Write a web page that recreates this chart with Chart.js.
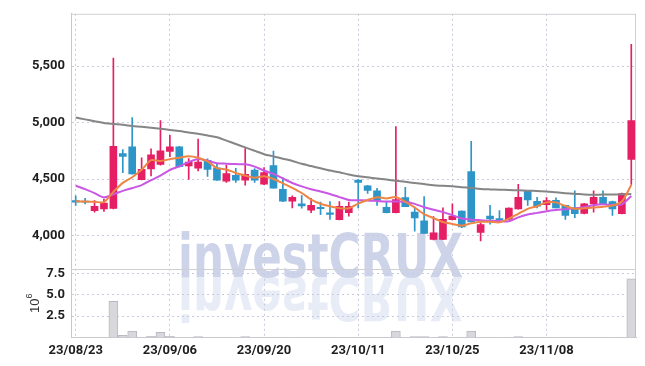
<!DOCTYPE html>
<html><head><meta charset="utf-8">
<script src="https://cdn.jsdelivr.net/npm/chart.js@4/dist/chart.umd.min.js"></script>
<style>html,body{margin:0;padding:0;background:#fff;}#wrap{width:645px;height:366px;position:relative;}</style>
</head><body><div id="wrap"><canvas id="c" width="645" height="366"></canvas></div>
<script>
const dates = ['23/08/23','23/08/24','23/08/25','23/08/28','23/08/29','23/08/30','23/08/31','23/09/01','23/09/04','23/09/05',
'23/09/06','23/09/07','23/09/08','23/09/11','23/09/12','23/09/13','23/09/14','23/09/15','23/09/18','23/09/19',
'23/09/20','23/09/21','23/09/22','23/09/25','23/09/26','23/09/27','23/10/04','23/10/05','23/10/06','23/10/10',
'23/10/11','23/10/12','23/10/13','23/10/16','23/10/17','23/10/18','23/10/19','23/10/20','23/10/23','23/10/24',
'23/10/25','23/10/26','23/10/27','23/10/30','23/10/31','23/11/01','23/11/02','23/11/03','23/11/06','23/11/07',
'23/11/08','23/11/09','23/11/10','23/11/13','23/11/14','23/11/15','23/11/16','23/11/17','23/11/20','23/11/21'];
const openP  = [4308,4304,4220,4236,4240,4725,4785,4495,4590,4630,4745,4785,4615,4595,4665,4600,4480,4533,4490,4580,
                4455,4620,4408,4303,4280,4225,4250,4200,4140,4201,4490,4440,4396,4250,4201,4336,4207,4129,3965,3965,
                4140,4216,4565,4026,4172,4150,4143,4236,4396,4303,4272,4312,4266,4245,4195,4280,4338,4301,4192,4673];
const highP  = [4350,4330,4310,4323,5570,4761,5044,4688,4767,5017,4886,4790,4682,4854,4679,4630,4624,4594,4769,4592,
                4601,4747,4513,4352,4353,4330,4295,4301,4301,4295,4495,4445,4417,4301,4965,4426,4251,4345,4168,4245,
                4280,4218,4833,4113,4268,4221,4245,4453,4400,4338,4336,4333,4270,4396,4285,4396,4396,4305,4375,5693];
const lowP   = [4266,4280,4207,4213,4236,4557,4542,4493,4528,4622,4697,4605,4496,4572,4522,4488,4469,4469,4446,4470,
                4450,4418,4300,4245,4242,4201,4184,4143,4138,4172,4245,4373,4266,4200,4200,4254,4039,4018,3960,3963,
                4138,4070,4118,3951,4100,4135,4140,4234,4266,4245,4228,4245,4143,4157,4190,4207,4280,4178,4190,4453];
const closeP = [4296,4296,4258,4286,4790,4700,4545,4585,4715,4750,4785,4610,4650,4650,4585,4490,4548,4490,4542,4490,
                4557,4420,4303,4338,4262,4266,4237,4187,4257,4257,4470,4400,4310,4201,4318,4254,4155,4018,4024,4143,
                4172,4076,4120,4096,4146,4140,4242,4338,4314,4260,4310,4245,4178,4192,4280,4338,4280,4236,4371,5017];
const volume = [30000,30000,30000,30000,4250000,250000,750000,30000,150000,600000,150000,30000,30000,120000,30000,30000,30000,30000,120000,30000,
                30000,30000,30000,30000,30000,30000,30000,30000,30000,30000,30000,30000,30000,30000,750000,30000,120000,120000,30000,120000,
                30000,30000,750000,30000,30000,30000,30000,120000,30000,30000,30000,30000,30000,30000,30000,30000,30000,30000,30000,6900000];
const ma5    = [4303,4300,4298,4295,4386,4466,4516,4581,4667,4659,4676,4689,4702,4689,4656,4597,4585,4553,4531,4512,
                4525,4500,4462,4422,4376,4318,4281,4258,4242,4241,4282,4314,4339,4328,4340,4297,4248,4189,4154,4119,
                4102,4087,4107,4121,4122,4116,4149,4192,4236,4259,4293,4293,4261,4237,4241,4247,4254,4265,4301,4448];
const ma10   = [4440,4410,4375,4338,4365,4395,4420,4446,4490,4530,4580,4612,4650,4678,4662,4640,4636,4632,4630,4610,
                4575,4545,4505,4465,4435,4410,4390,4367,4340,4315,4312,4310,4305,4300,4300,4298,4280,4250,4228,4207,
                4180,4150,4140,4135,4130,4128,4126,4160,4185,4200,4215,4225,4232,4240,4251,4268,4276,4270,4275,4350];
const maLong = [5045,5028,5012,4995,4987,4980,4970,4962,4953,4945,4935,4925,4912,4900,4885,4870,4840,4810,4780,4750,
                4720,4700,4680,4660,4635,4615,4595,4575,4560,4540,4525,4515,4505,4495,4485,4475,4465,4455,4445,4440,
                4435,4428,4420,4412,4408,4405,4403,4400,4397,4393,4390,4382,4375,4370,4362,4360,4362,4363,4364,4367];
const priceTicks = [4000,4500,5000,5500];
const volumeTicks = [2500000,5000000,7500000];

const UP = '#e61e64', DOWN = '#2e95c8', GRID = '#c9cbdc';
const FONT = "Roboto,'Liberation Sans',sans-serif";
const WMFONT = "'DejaVu Sans Condensed','Liberation Sans Narrow',sans-serif";
const candleColor = (i) => closeP[i] >= openP[i] ? UP : DOWN;

const watermark = {
  id: 'wm',
  beforeDraw(chart) {
    const ctx = chart.ctx;
    ctx.save();
    ctx.font = "bold 60px " + WMFONT;
    const w = ctx.measureText('investCRUX').width;
    const sx = 285 / w;
    ctx.setTransform(sx, 0, 0, 1, 178, 277);
    ctx.fillStyle = 'rgba(188,197,226,0.75)';
    ctx.fillText('investCRUX', 0, 0);
    ctx.setTransform(sx, 0, 0, -1, 178, 277);
    ctx.fillStyle = 'rgba(205,212,234,0.45)';
    ctx.fillText('investCRUX', 0, 0);
    ctx.restore();
  }
};
const frame = {
  id: 'frame',
  beforeDatasetsDraw(chart) {
    const {ctx, chartArea: a} = chart;
    ctx.save();
    ctx.strokeStyle = '#d0d0d4';
    ctx.lineWidth = 1;
    ctx.beginPath();
    ctx.moveTo(a.left, a.top + 0.5); ctx.lineTo(a.right, a.top + 0.5);
    ctx.moveTo(a.right - 0.5, a.top); ctx.lineTo(a.right - 0.5, a.bottom);
    const yb = chart.scales.y.bottom;
    ctx.moveTo(a.left, yb + 0.5); ctx.lineTo(a.right, yb + 0.5);
    ctx.stroke();
    ctx.restore();
  },
  afterDraw(chart) {
    const ctx = chart.ctx;
    const s = chart.scales.yv;
    ctx.save();
    ctx.translate(33, (s.top + s.bottom) / 2);
    ctx.rotate(-Math.PI / 2);
    ctx.fillStyle = '#333';
    ctx.textBaseline = 'middle';
    ctx.font = "13px 'Liberation Sans',sans-serif";
    const w1 = ctx.measureText('10').width;
    ctx.font = "9px 'Liberation Sans',sans-serif";
    const w2 = ctx.measureText('6').width;
    const x0 = -(w1 + w2) / 2;
    ctx.font = "13px 'Liberation Sans',sans-serif";
    ctx.fillText('10', x0, 2);
    ctx.font = "9px 'Liberation Sans',sans-serif";
    ctx.fillText('6', x0 + w1, -3);
    ctx.restore();
  }
};

const tickFont = {family: FONT, size: 13, weight: 'bold'};

new Chart(document.getElementById('c'), {
  data: {
    labels: dates,
    datasets: [
      {type:'line', label:'MA5', data: ma5, borderColor:'#ef8544', borderWidth:2, pointRadius:0, tension:0.25, yAxisID:'y', order:0},
      {type:'line', label:'MA10', data: ma10, borderColor:'#c957e3', borderWidth:2, pointRadius:0, tension:0.25, yAxisID:'y', order:1},
      {type:'line', label:'MA long', data: maLong, borderColor:'#858585', borderWidth:2, pointRadius:0, tension:0.25, yAxisID:'y', order:2},
      {type:'bar', label:'body', data: dates.map((d,i)=>[openP[i], closeP[i]]), backgroundColor:(c)=>candleColor(c.dataIndex),
        barThickness:7, grouped:false, yAxisID:'y', order:3},
      {type:'bar', label:'wick', data: dates.map((d,i)=>[lowP[i], highP[i]]), backgroundColor:(c)=>candleColor(c.dataIndex),
        barThickness:1, grouped:false, yAxisID:'y', order:4},
      {type:'bar', label:'volume', data: volume, backgroundColor:'#d7d7dc', borderColor:'#b9b9c2', borderWidth:1,
        barThickness:9, grouped:false, yAxisID:'yv', order:5}
    ]
  },
  options: {
    responsive:false, animation:false, devicePixelRatio:1,
    layout:{padding:{left:0, right:9, top:9, bottom:0}},
    plugins:{legend:{display:false}, tooltip:{enabled:false}},
    scales:{
      x:{type:'category', offset:true,
        grid:{offset:false, drawTicks:false, color:(c)=> (c.index % 10 === 0 ? GRID : 'rgba(0,0,0,0)')},
        border:{display:true, color:'#c8c8cc', dash:[2,3]},
        ticks:{autoSkip:false, maxRotation:0, minRotation:0, padding:5, color:'#1e1e1e', font:tickFont,
          callback:(v,i)=> (i % 10 === 0 ? dates[i] : '')},
        afterFit:(s)=>{ s.height = 28.5; }
      },
      yv:{type:'linear', position:'left', stack:'main', stackWeight:69.5, min:0, max:8040000,
        afterBuildTicks:(s)=>{ s.ticks = volumeTicks.map(v=>({value:v})); },
        grid:{drawTicks:false, color:GRID},
        border:{display:true, color:'#c8c8cc', dash:[2,3]},
        ticks:{autoSkip:false, padding:6, color:'#1e1e1e', font:tickFont, callback:(v)=> (v/1e6).toFixed(1)},
        afterFit:(s)=>{ s.width = 71; }
      },
      y:{type:'linear', position:'left', stack:'main', stackWeight:259, min:3703, max:5963,
        afterBuildTicks:(s)=>{ s.ticks = priceTicks.map(v=>({value:v})); },
        grid:{drawTicks:false, color:GRID},
        border:{display:true, color:'#c8c8cc', dash:[2,3]},
        ticks:{autoSkip:false, padding:6, color:'#1e1e1e', font:tickFont, callback:(v)=> v.toLocaleString('en-US')},
        afterFit:(s)=>{ s.width = 71; }
      }
    }
  },
  plugins:[watermark, frame]
});
</script></body></html>
